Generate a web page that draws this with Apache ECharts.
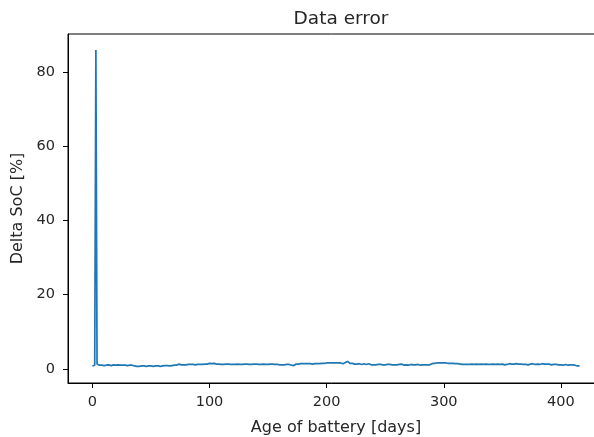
<!DOCTYPE html>
<html>
<head>
<meta charset="utf-8">
<title>Data error</title>
<script src="https://cdn.jsdelivr.net/npm/echarts@6/dist/echarts.min.js"></script>
<style>
    html, body { margin: 0; padding: 0; background: #fff; }
    #chart-container { width: 594px; height: 437px; }
</style>
</head>
<body>
<div id="chart-container"></div>
<script>
// delta SoC per day of battery age (day 0 .. 416)
var firstDay = 0;
var deltaSoc = [
    0.8, 0.9, 1.0, 86.0, 1.3, 0.9, 1.0, 1.1, 1.0, 1.0, 0.9, 1.1, 1.0, 1.0, 1.1, 1.0, 0.9, 1.0, 1.1, 1.0,
    1.0, 1.0, 1.1, 0.9, 1.0, 1.0, 1.0, 1.1, 1.0, 1.0, 0.9, 1.0, 1.0, 1.1, 1.0, 0.9, 0.8, 0.8, 0.7, 0.8,
    0.7, 0.8, 0.8, 0.7, 0.8, 0.7, 0.7, 0.8, 0.8, 0.7, 0.8, 0.8, 0.7, 0.7, 0.8, 0.7, 0.8, 0.8, 0.7, 0.8,
    0.8, 0.8, 0.9, 0.8, 0.9, 0.9, 0.8, 0.9, 0.9, 0.9, 1.0, 0.9, 1.0, 1.2, 1.3, 1.2, 1.1, 1.2, 1.1, 1.2,
    1.1, 1.2, 1.2, 1.1, 1.2, 1.1, 1.2, 1.2, 1.1, 1.2, 1.2, 1.3, 1.2, 1.3, 1.2, 1.3, 1.3, 1.4, 1.3, 1.4,
    1.5, 1.4, 1.4, 1.3, 1.5, 1.4, 1.3, 1.4, 1.3, 1.3, 1.2, 1.3, 1.2, 1.3, 1.3, 1.2, 1.3, 1.2, 1.2, 1.3,
    1.2, 1.3, 1.2, 1.2, 1.3, 1.3, 1.2, 1.3, 1.2, 1.2, 1.3, 1.2, 1.3, 1.3, 1.2, 1.3, 1.2, 1.2, 1.3, 1.2,
    1.3, 1.2, 1.2, 1.3, 1.2, 1.3, 1.3, 1.2, 1.2, 1.3, 1.2, 1.2, 1.3, 1.2, 1.3, 1.2, 1.2, 1.1, 1.2, 1.2,
    1.1, 1.2, 1.1, 1.2, 1.1, 1.1, 1.2, 1.1, 1.2, 1.1, 1.0, 1.1, 0.9, 1.2, 1.3, 1.4, 1.3, 1.5, 1.4, 1.5,
    1.4, 1.5, 1.4, 1.3, 1.4, 1.5, 1.4, 1.4, 1.3, 1.4, 1.4, 1.5, 1.4, 1.5, 1.4, 1.6, 1.5, 1.6, 1.5, 1.6,
    1.6, 1.5, 1.6, 1.7, 1.6, 1.5, 1.6, 1.5, 1.6, 1.7, 1.6, 1.5, 1.6, 1.5, 1.4, 1.5, 1.7, 1.9, 2.0, 1.7,
    1.5, 1.4, 1.5, 1.4, 1.3, 1.4, 1.3, 1.4, 1.4, 1.3, 1.2, 1.3, 1.4, 1.3, 1.2, 1.3, 1.4, 1.2, 1.1, 1.2,
    1.1, 1.2, 1.1, 1.0, 1.2, 1.1, 1.2, 1.0, 1.1, 1.2, 1.1, 1.0, 1.2, 1.1, 1.2, 1.0, 1.1, 1.3, 1.1, 1.2,
    1.1, 1.0, 1.2, 1.1, 1.3, 1.1, 1.0, 1.2, 1.1, 1.2, 1.0, 1.1, 1.2, 1.0, 1.1, 1.2, 1.1, 1.0, 1.2, 1.1,
    1.0, 1.2, 1.1, 0.9, 1.1, 1.0, 1.1, 1.2, 1.1, 1.3, 1.4, 1.5, 1.5, 1.6, 1.6, 1.6, 1.6, 1.5, 1.6, 1.6,
    1.6, 1.5, 1.6, 1.5, 1.5, 1.5, 1.5, 1.4, 1.5, 1.4, 1.4, 1.5, 1.4, 1.4, 1.3, 1.1, 1.2, 1.0, 1.2, 1.1,
    1.2, 1.0, 1.2, 1.1, 1.3, 1.0, 1.2, 1.1, 1.3, 1.0, 1.2, 1.1, 1.3, 1.1, 1.2, 1.0, 1.3, 1.1, 1.2, 1.0,
    1.2, 1.1, 1.3, 1.1, 1.2, 1.2, 1.3, 1.1, 1.2, 1.1, 1.3, 1.2, 1.1, 1.3, 1.2, 1.3, 1.4, 1.2, 1.3, 1.1,
    1.3, 1.2, 1.4, 1.2, 1.3, 1.4, 1.3, 1.4, 1.2, 1.3, 1.2, 1.3, 1.1, 1.2, 1.3, 1.2, 1.4, 1.3, 1.2, 1.4,
    1.3, 1.4, 1.2, 1.3, 1.4, 1.3, 1.3, 1.4, 1.3, 1.2, 1.3, 1.2, 1.1, 1.3, 1.2, 1.1, 1.2, 1.3, 1.1, 1.2,
    1.1, 1.2, 1.0, 1.1, 1.2, 1.1, 1.0, 1.2, 1.1, 1.0, 1.1, 0.9, 1.0, 0.9, 0.8, 0.9, 0.8
];

var xTicks = [0, 100, 200, 300, 400];
var yTicks = [0, 20, 40, 60, 80];

var FONT = 'DejaVu Sans';
var TEXT_COLOR = '#262626';

var points = [];
deltaSoc.forEach(function (v, i) {
    points.push([firstDay + i, v]);
});

var chart = echarts.init(document.getElementById('chart-container'), null, { renderer: 'canvas' });

// the axes box runs past the right edge of the picture, so only left/top/bottom spines show
var option = {
    animation: false,
    backgroundColor: '#ffffff',
    title: {
        text: 'Data error',
        left: 336,
        textAlign: 'center',
        top: 5,
        textStyle: {
            fontFamily: FONT,
            fontSize: 18.5,
            fontWeight: 'normal',
            color: TEXT_COLOR
        }
    },
    grid: {
        left: 68,
        top: 34,
        width: 536,
        height: 349,
        show: true,
        borderColor: '#000',
        borderWidth: 1,
        containLabel: false,
        outerBoundsMode: 'none'
    },
    xAxis: {
        type: 'value',
        min: -20.8,
        max: 436.8,
        name: 'Age of battery [days]',
        nameLocation: 'middle',
        nameGap: 37,
        nameTextStyle: { fontFamily: FONT, fontSize: 16, color: TEXT_COLOR },
        axisLine: { show: true, onZero: false, lineStyle: { color: '#000', width: 1 } },
        axisTick: { show: true, length: 5, customValues: xTicks, lineStyle: { color: '#000' } },
        axisLabel: {
            customValues: xTicks,
            margin: 12,
            fontFamily: FONT,
            fontSize: 14.5,
            color: TEXT_COLOR
        },
        splitLine: { show: false }
    },
    yAxis: {
        type: 'value',
        min: -3.8,
        max: 90.3,
        name: 'Delta SoC [%]',
        nameLocation: 'middle',
        nameGap: 36,
        nameTextStyle: { fontFamily: FONT, fontSize: 16, color: TEXT_COLOR },
        axisLine: { show: true, onZero: false, lineStyle: { color: '#000', width: 1 } },
        axisTick: { show: true, length: 5, customValues: yTicks, lineStyle: { color: '#000' } },
        axisLabel: {
            customValues: yTicks,
            margin: 13,
            fontFamily: FONT,
            fontSize: 14.5,
            color: TEXT_COLOR
        },
        splitLine: { show: false }
    },
    series: [{
        type: 'line',
        data: points,
        showSymbol: false,
        symbol: 'none',
        lineStyle: { color: '#1f77b4', width: 1.7 },
        clip: true
    }]
};

chart.setOption(option);
</script>
</body>
</html>
